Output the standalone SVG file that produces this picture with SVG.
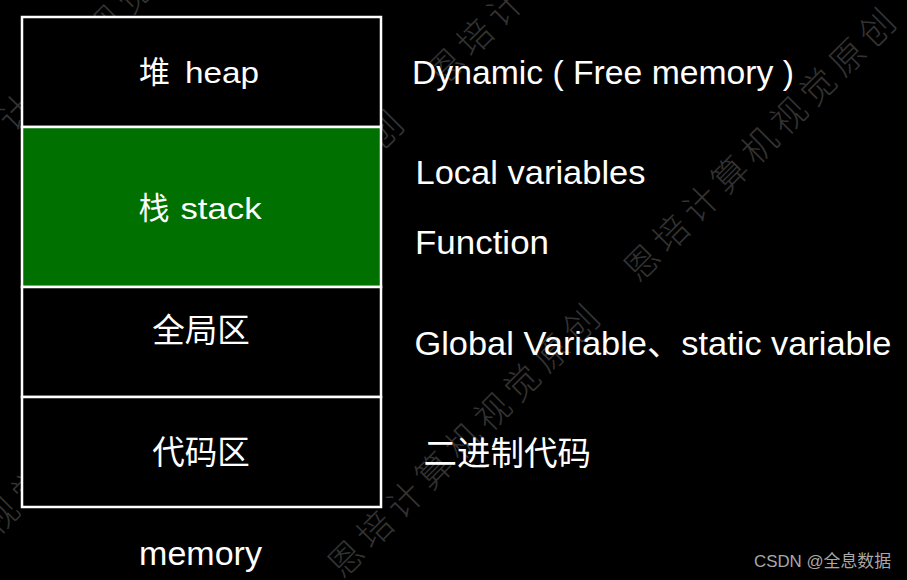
<svg xmlns="http://www.w3.org/2000/svg" width="907" height="580" viewBox="0 0 907 580">
  <style>
    .bg { fill: #000000; }
    .box { fill: #000000; stroke: #ffffff; stroke-width: 2.5; }
    .green { fill: #007000; stroke: #ffffff; stroke-width: 2.5; }
    .lat { font-family: "Liberation Sans", Arial, Helvetica, sans-serif; fill: #ffffff; }
    .cjk { font-family: "Noto Sans CJK SC", "Noto Sans", sans-serif; fill: #ffffff; }
    .mix { font-family: "Liberation Sans", "Noto Sans CJK SC", Arial, sans-serif; fill: #ffffff; }
    .wm { font-family: "Noto Sans CJK SC", sans-serif; font-size: 35px; letter-spacing: 6.5px; fill: #333333; font-weight: 300; }
    .credit { font-family: "Liberation Sans", "Noto Sans CJK SC", Arial, sans-serif; font-size: 16.5px; fill: #a8a8a8; }
  </style>

  <rect class="bg" x="0" y="0" width="907" height="580"/>

  <!-- watermarks -->
  <g id="watermarks">
    <text class="wm" transform="translate(-3,537) rotate(-45)">视觉原创</text>
    <text class="wm" transform="translate(13,133.5) rotate(-45)">计算机视觉</text>
    <text class="wm" transform="translate(146.5,386) rotate(-45)">恩培计算机视觉原创</text>
    <text class="wm" transform="translate(342.5,580) rotate(-45)">恩培计算机视觉原创</text>
    <text class="wm" transform="translate(442.5,88) rotate(-45)">恩培计</text>
    <text class="wm" transform="translate(638.5,284) rotate(-45)">恩培计算机视觉原创</text>
  </g>

  <g id="heap">
    <rect class="box" x="22" y="17" width="359" height="110"/>
    <text class="cjk" x="139" y="83" font-size="31">堆</text>
    <text class="lat" x="185" y="82.5" font-size="29" textLength="74" lengthAdjust="spacingAndGlyphs">heap</text>
  </g>

  <g id="stack">
    <rect class="green" x="22" y="127" width="359" height="160"/>
    <text class="cjk" x="138.5" y="219" font-size="31">栈</text>
    <text class="lat" x="180.5" y="218.5" font-size="29" textLength="81" lengthAdjust="spacingAndGlyphs">stack</text>
  </g>

  <g id="global">
    <rect class="box" x="22" y="287" width="359" height="110"/>
    <text class="cjk" x="201" y="341.5" font-size="32.5" text-anchor="middle">全局区</text>
  </g>

  <g id="code">
    <rect class="box" x="22" y="397" width="359" height="110"/>
    <text class="cjk" x="201" y="463.5" font-size="32.5" text-anchor="middle">代码区</text>
  </g>

  <g id="memory-label">
    <text class="lat" x="200.5" y="565" font-size="34" text-anchor="middle">memory</text>
  </g>

  <g id="annotations">
    <text id="note-heap" class="lat" x="412" y="83.5" font-size="33.5" textLength="382" lengthAdjust="spacingAndGlyphs">Dynamic ( Free memory )</text>
    <text id="note-local" class="lat" x="415.5" y="184" font-size="33.5" textLength="230" lengthAdjust="spacingAndGlyphs">Local variables</text>
    <text id="note-func" class="lat" x="415" y="254" font-size="33.5" textLength="134" lengthAdjust="spacingAndGlyphs">Function</text>
    <text id="note-global" class="mix" x="414.5" y="354.5" font-size="33.5" textLength="477" lengthAdjust="spacingAndGlyphs">Global Variable、static variable</text>
    <text id="note-code" class="cjk" x="423.5" y="464.5" font-size="33.5">二进制代码</text>
  </g>

  <text class="credit" x="754" y="566.5" textLength="137" lengthAdjust="spacingAndGlyphs">CSDN @全息数据</text>
</svg>
